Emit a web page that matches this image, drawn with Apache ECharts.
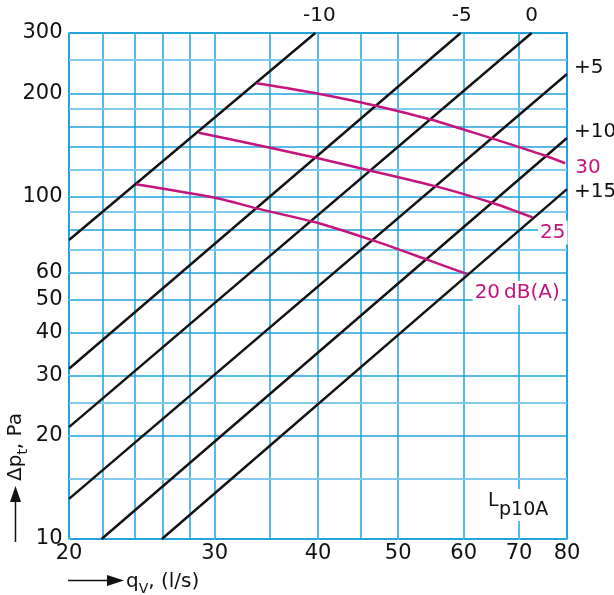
<!DOCTYPE html>
<html><head><meta charset="utf-8">
<script src="https://cdn.jsdelivr.net/npm/echarts@6/dist/echarts.min.js"></script>
<style>html,body{margin:0;padding:0;background:#fff}#c{width:614px;height:595px}</style>
</head><body><div id="c"></div>
<script>
// ---- data ----
const xTicks = [20, 30, 40, 50, 60, 70, 80];
const yTicks = [10, 20, 30, 40, 50, 60, 100, 200, 300];
const xGrid = [20, 22, 24, 26, 28, 30, 35, 40, 45, 50, 60, 70, 80];
const yGridMajor = [10, 20, 30, 40, 50, 60, 80, 100, 140, 160, 200, 300];
const yGridMinor = [15, 25, 70, 90, 120, 180, 250];

const lineNames = ['-10', '-5', '0', '+5', '+10', '+15'];
const lineM10 = [[20, 74.6], [39.7, 300]];
const lineM5 = [[20, 31.4], [59.5, 300]];
const line0 = [[20, 21.2], [72.5, 300]];
const lineP5 = [[20, 13.1], [80, 227.7]];
const lineP10 = [[21.9, 10], [80, 148.1]];
const lineP15 = [[25.9, 10], [80, 105.1]];
const blackLines = [lineM10, lineM5, line0, lineP5, lineP10, lineP15];

const curveNames = ['20\u2009dB(A)', '25', '30'];
const curve20 = [[24.1, 108.5], [30.2, 98.8], [33.7, 92.3], [40.2, 83.4], [46.7, 74.3], [54.1, 65.5], [60.5, 59.4]];
const curve25 = [[28.7, 153.5], [35.0, 138.8], [40.0, 129.2], [45.0, 120.8], [55.7, 106.8], [65.2, 95.5], [72.8, 86.7]];
const curve30 = [[33.7, 213.9], [40.2, 199.1], [47.1, 183.7], [54.6, 168.0], [59.7, 157.4], [64.9, 147.8], [74.9, 132.1], [79.6, 125.0]];
const curves = [curve20, curve25, curve30];

// ---- styles ----
const FONT = 'DejaVu Sans';
const TXT = '#111';
const BLUE = '#1fa2dc';
const BLUE_LIGHT = '#7fcaed';
const MAGENTA = '#c5147e';

const gridLines = [];
xGrid.forEach(v => gridLines.push({xAxis: v, lineStyle: {color: BLUE, width: 1.5, type: 'solid'}}));
yGridMajor.forEach(v => gridLines.push({yAxis: v, lineStyle: {color: BLUE, width: 1.5, type: 'solid'}}));
yGridMinor.forEach(v => gridLines.push({yAxis: v, lineStyle: {color: BLUE_LIGHT, width: 2, type: 'solid'}}));

const series = [];
series.push({
  type: 'line', data: [[20, 10]], symbol: 'none', lineStyle: {width: 0}, z: 1, silent: true, animation: false,
  markLine: {z: 1, silent: true, symbol: ['none', 'none'], label: {show: false}, animation: false,
    lineStyle: {type: 'solid'}, data: gridLines}
});
blackLines.forEach((d, i) => series.push({
  type: 'line', name: lineNames[i], data: d, symbol: 'none', z: 6, silent: true, animation: false,
  lineStyle: {color: '#111', width: 2.4}
}));
curves.forEach((d, i) => series.push({
  type: 'line', name: curveNames[i], data: d, symbol: 'none', smooth: 0.25, z: 7, silent: true, animation: false,
  lineStyle: {color: MAGENTA, width: 2.5}
}));
const tickLabel = {fontSize: 21, fontFamily: FONT, color: TXT, opacity: 1};
series.push({
  type: 'scatter', data: xTicks.map(v => [v, 10]), symbolSize: 1, itemStyle: {color: '#fff', opacity: 1},
  clip: false, silent: true, animation: false, z: 8,
  label: Object.assign({show: true, position: 'bottom', distance: 4, formatter: p => String(p.value[0])}, tickLabel)
});
series.push({
  type: 'scatter', data: yTicks.map(v => [20, v]), symbolSize: 1, itemStyle: {color: '#fff', opacity: 1},
  clip: false, silent: true, animation: false, z: 8,
  label: Object.assign({show: true, position: 'left', distance: 6, formatter: p => String(p.value[1])}, tickLabel)
});

const option = {
  animation: false,
  backgroundColor: '#fff',
  grid: {left: 69, right: 47, top: 33, bottom: 56, show: true, borderColor: '#29a9e1', borderWidth: 2,
    backgroundColor: 'transparent', containLabel: false, outerBoundsMode: 'none'},
  xAxis: {type: 'log', logBase: 10, min: 20, max: 80, axisLine: {show: false}, axisTick: {show: false},
    axisLabel: {show: false}, splitLine: {show: false}},
  yAxis: {type: 'log', logBase: 10, min: 10, max: 300, axisLine: {show: false}, axisTick: {show: false},
    axisLabel: {show: false}, splitLine: {show: false}},
  series: series
};

const chart = echarts.init(document.getElementById('c'), null, {renderer: 'canvas'});
chart.setOption(option);

const toPx = v => chart.convertToPixel({gridIndex: 0}, v);
const g = [];
// labels of the black lines (offsets from the line end)
const lineLabelOff = [[4, -17, 'center'], [1, -17, 'center'], [0, -17, 'center'], [7, -6, 'left'], [7, -6.5, 'left'], [7, 3, 'left']];
blackLines.forEach((d, i) => {
  const p = toPx(d[d.length - 1]);
  const o = lineLabelOff[i];
  g.push({type: 'text', x: p[0] + o[0], y: p[1] + o[1], z: 20,
    style: {text: lineNames[i], align: o[2], verticalAlign: 'middle', fontSize: 20, fontFamily: FONT, fill: TXT}});
});
// labels of the magenta curves
const curveLabelOff = [[6, 19, true], [5, 15, true], [10, 5, false]];
curves.forEach((d, i) => {
  const p = toPx(d[d.length - 1]);
  const o = curveLabelOff[i];
  g.push({type: 'text', x: p[0] + o[0], y: p[1] + o[1], z: 20,
    style: {text: curveNames[i], align: 'left', verticalAlign: 'middle', fontSize: 20, fontFamily: FONT, fill: MAGENTA,
      backgroundColor: o[2] ? '#fff' : null, padding: o[2] ? [2, 2, 2, 2] : 0}});
});
// Lp10A annotation
g.push({type: 'rect', shape: {x: 486, y: 489, width: 70, height: 32}, style: {fill: '#fff'}, z: 19});
g.push({type: 'text', x: 488, y: 501, z: 20, style: {text: 'L', align: 'left', verticalAlign: 'middle', fontSize: 19, fontFamily: FONT, fill: TXT}});
g.push({type: 'text', x: 499, y: 510, z: 20, style: {text: 'p10A', align: 'left', verticalAlign: 'middle', fontSize: 19, fontFamily: FONT, fill: TXT}});
// y axis title with arrow
g.push({type: 'line', shape: {x1: 15.5, y1: 542, x2: 15.5, y2: 500}, style: {stroke: TXT, lineWidth: 1.5}, z: 20});
g.push({type: 'polygon', shape: {points: [[10, 502], [15.5, 486], [21, 502]]}, style: {fill: TXT}, z: 20});
g.push({type: 'text', x: 16, y: 447, rotation: Math.PI / 2, z: 20,
  style: {text: 'Δp{s|t}, Pa', align: 'center', verticalAlign: 'middle', fontSize: 20, fontFamily: FONT, fill: TXT, lineHeight: 28,
    rich: {s: {fontSize: 14, fontFamily: FONT, fill: TXT, verticalAlign: 'bottom', lineHeight: 14}}}});
// x axis title with arrow
g.push({type: 'line', shape: {x1: 68, y1: 580.5, x2: 108, y2: 580.5}, style: {stroke: TXT, lineWidth: 1.5}, z: 20});
g.push({type: 'polygon', shape: {points: [[107, 575], [124, 580.5], [107, 586]]}, style: {fill: TXT}, z: 20});
g.push({type: 'text', x: 126, y: 582, z: 20,
  style: {text: 'q{s|V}, (l/s)', align: 'left', verticalAlign: 'middle', fontSize: 20, fontFamily: FONT, fill: TXT, lineHeight: 28,
    rich: {s: {fontSize: 14, fontFamily: FONT, fill: TXT, verticalAlign: 'bottom', lineHeight: 14}}}});

chart.setOption({graphic: g});
</script>
</body></html>
